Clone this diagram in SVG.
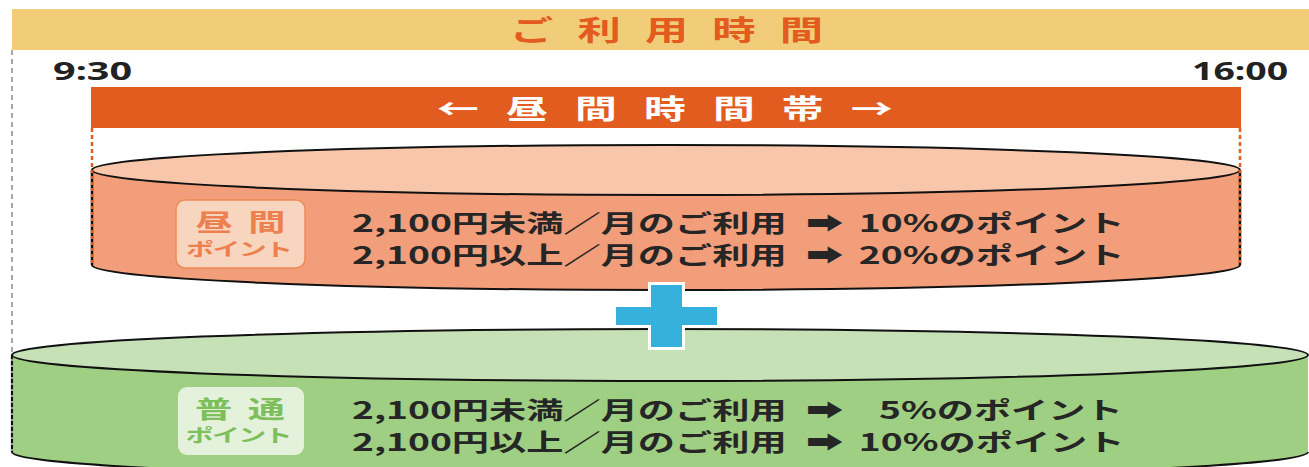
<svg xmlns="http://www.w3.org/2000/svg" width="1309" height="467" viewBox="0 0 1309 467">
<style>
.jp{font-family:"Noto Sans CJK JP","DejaVu Sans",sans-serif;font-weight:700}
.num{font-family:"Noto Sans","Liberation Sans",sans-serif;font-weight:700;fill:#222}
.main{font-size:24px;fill:#262626}
.edge{stroke:#111;stroke-width:2;fill:none}
</style>
<rect width="1309" height="467" fill="#fff"/>

<g id="header">
  <rect x="12" y="9" width="1297" height="41" fill="#F1CD7A"/>
  <text class="jp" transform="matrix(1.55 0 0 1 510 41)" font-size="28" fill="#E35B1E" textLength="202" lengthAdjust="spacing">ご 利 用 時 間</text>
</g>

<g id="guides">
  <line x1="12" y1="50" x2="12" y2="355" stroke="#8a8a8a" stroke-width="1.5" stroke-dasharray="5,4"/>
  <line x1="92" y1="128" x2="92" y2="170" stroke="#E35C1F" stroke-width="2.5" stroke-dasharray="4,3"/>
  <line x1="1240" y1="128" x2="1240" y2="170" stroke="#E35C1F" stroke-width="2.5" stroke-dasharray="4,3"/>
</g>

<g id="times">
  <text class="num" transform="matrix(1.55 0 0 1 53 80)" font-size="25" textLength="51" lengthAdjust="spacingAndGlyphs">9:30</text>
  <text class="num" transform="matrix(1.55 0 0 1 1192 80)" font-size="25" textLength="62" lengthAdjust="spacingAndGlyphs">16:00</text>
</g>

<g id="daytime-band">
  <rect x="91" y="87" width="1150" height="41" fill="#E35C1F"/>
  <text class="jp" transform="matrix(1.55 0 0 1 437 119)" font-size="27" fill="#fff" textLength="294" lengthAdjust="spacing">← 昼 間 時 間 帯 →</text>
</g>

<g id="daytime-cylinder">
  <path d="M92 170 L92 265 A574 25 0 0 0 1240 265 L1240 170 Z" fill="#F29E7B"/>
  <path d="M92 265 A574 25 0 0 0 1240 265" class="edge"/>
  <ellipse cx="666" cy="170" rx="574" ry="25" fill="#F7C6AB" stroke="#111" stroke-width="2"/>
  <line x1="92" y1="170" x2="92" y2="265" stroke="#111" stroke-width="2.5"/>
  <line x1="92" y1="170" x2="92" y2="265" stroke="#E35C1F" stroke-width="2.5" stroke-dasharray="3,3"/>
  <line x1="1240" y1="170" x2="1240" y2="265" stroke="#111" stroke-width="2.5"/>
  <line x1="1240" y1="170" x2="1240" y2="265" stroke="#E35C1F" stroke-width="2.5" stroke-dasharray="3,3"/>
  <rect x="176" y="200" width="129" height="68" rx="9" fill="#F8D5BF" stroke="#EE8A58" stroke-width="1.5"/>
  <text class="jp" transform="matrix(1.55 0 0 1 240.5 231)" font-size="24" fill="#EE7F4F" text-anchor="middle" textLength="58" lengthAdjust="spacing">昼 間</text>
  <text class="jp" transform="matrix(1.55 0 0 1 239.5 256)" font-size="18" fill="#EE7F4F" text-anchor="middle" textLength="69" lengthAdjust="spacing">ポイント</text>
  <text class="jp main" transform="matrix(1.55 0 0 1 352 232)"><tspan x="0">2,100円未満／月のご利用</tspan> <tspan x="293">➡</tspan> <tspan x="327">10%のポイント</tspan></text>
  <text class="jp main" transform="matrix(1.55 0 0 1 352 264)"><tspan x="0">2,100円以上／月のご利用</tspan> <tspan x="293">➡</tspan> <tspan x="327">20%のポイント</tspan></text>
</g>

<g id="normal-cylinder">
  <path d="M12 355 L12 452 A648 26 0 0 0 1308 452 L1308 355 Z" fill="#9ECF82"/>
  <path d="M12 452 A648 26 0 0 0 1308 452" class="edge"/>
  <ellipse cx="660" cy="355" rx="648" ry="26" fill="#C6E1B6" stroke="#111" stroke-width="2"/>
  <line x1="12" y1="355" x2="12" y2="452" stroke="#999" stroke-width="2.5"/>
  <line x1="12" y1="355" x2="12" y2="452" stroke="#111" stroke-width="2" stroke-dasharray="4,2"/>
  <rect x="178" y="387" width="126" height="68" rx="9" fill="#E4F1DB"/>
  <text class="jp" transform="matrix(1.55 0 0 1 240 418)" font-size="24" fill="#7DBF5B" text-anchor="middle" textLength="58" lengthAdjust="spacing">普 通</text>
  <text class="jp" transform="matrix(1.55 0 0 1 239 442)" font-size="18" fill="#7DBF5B" text-anchor="middle" textLength="69" lengthAdjust="spacing">ポイント</text>
  <text class="jp main" transform="matrix(1.55 0 0 1 352 419)"><tspan x="0">2,100円未満／月のご利用</tspan> <tspan x="293">➡</tspan> <tspan x="340">5%のポイント</tspan></text>
  <text class="jp main" transform="matrix(1.55 0 0 1 352 451)"><tspan x="0">2,100円以上／月のご利用</tspan> <tspan x="293">➡</tspan> <tspan x="327">10%のポイント</tspan></text>
</g>

<g id="plus">
  <path d="M651 285 H682 V307 H717 V325 H682 V347 H651 V325 H616 V307 H651 Z" fill="#36B1DE" stroke="#fff" stroke-width="6" stroke-linejoin="miter" paint-order="stroke"/>
</g>
</svg>
